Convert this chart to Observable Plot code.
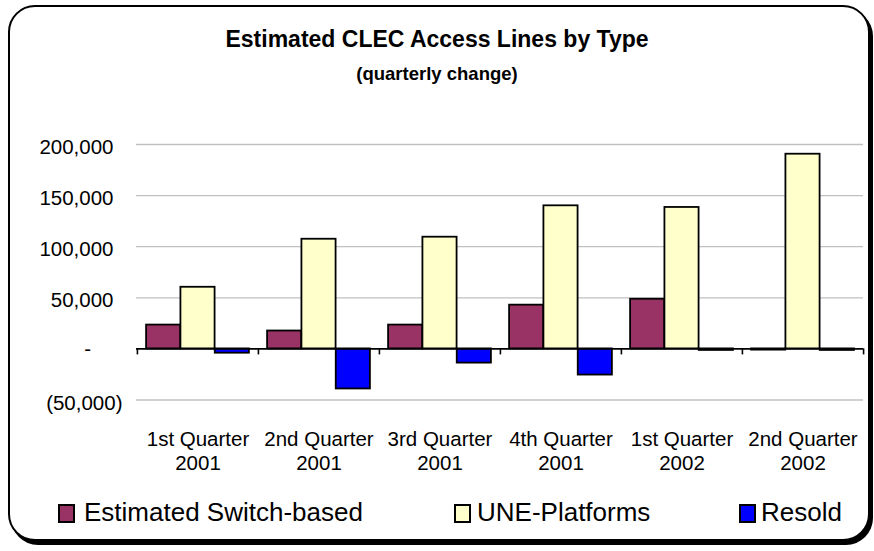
<!DOCTYPE html>
<html>
<head>
<meta charset="utf-8">
<script src="https://cdn.jsdelivr.net/npm/d3@7"></script>
<script src="https://cdn.jsdelivr.net/npm/@observablehq/plot@0.6"></script>
<style>
  html, body { margin: 0; padding: 0; background: #fff; }
  #wrap { position: relative; width: 874px; height: 551px; overflow: hidden;
          font-family: "Liberation Sans", Arial, sans-serif; color: #000; }
  #frame { position: absolute; left: 8px; top: 5px; width: 858px; height: 532px;
           border: 2px solid #000; border-radius: 27px; box-shadow: 3px 4px 0 #000; background: #fff; }
  .t { position: absolute; white-space: nowrap; }
  #title { left: 0; width: 874px; text-align: center; top: 27.5px; font-size: 23px; line-height: 23px; font-weight: bold; }
  #subtitle { left: 0; width: 874px; text-align: center; top: 64.5px; font-size: 18.5px; line-height: 18.5px; font-weight: bold; }
  #chart { position: absolute; left: 0; top: 0; }
  .key { position: absolute; top: 504px; width: 13px; height: 15px; border: 2px solid #000; }
  .ltxt { position: absolute; top: 499px; font-size: 26px; line-height: 26px; }
</style>
</head>
<body>
<div id="wrap">
  <div id="frame"></div>
  <div id="chart"></div>
  <div id="title" class="t"></div>
  <div id="subtitle" class="t"></div>
  <div id="legend"></div>
</div>
<script>
// ---- data ----
const titleText = "Estimated CLEC Access Lines by Type";
const subtitleText = "(quarterly change)";
const quarters = ["1st Quarter\n2001", "2nd Quarter\n2001", "3rd Quarter\n2001",
                  "4th Quarter\n2001", "1st Quarter\n2002", "2nd Quarter\n2002"];
const seriesNames = ["Estimated Switch-based", "UNE-Platforms", "Resold"];
const switchBased  = [23300, 17500, 23300, 42800, 48600, -1200];
const unePlatforms = [60300, 107300, 109300, 140000, 138400, 190500];
const resold       = [-4200, -39200, -13900, -25600, -1500, -1500];
const yTicks = [-50000, 0, 50000, 100000, 150000, 200000];
const seriesColors = ["#993366", "#FFFFCC", "#0000FF"];

// ---- layout ----
const W = 874, H = 551, mL = 136, mR = 11, mT = 144, mB = 151.5;
const step = (W - mL - mR) / quarters.length;
const barW = step / 3.53;
const pad = (step - 3 * barW) / 2;
const tickLenPx = 6;
const tickLen = tickLenPx * (yTicks[yTicks.length - 1] - yTicks[0]) / (H - mT - mB);

const values = [switchBased, unePlatforms, resold];
const rows = [];
quarters.forEach((q, qi) => values.forEach((arr, si) => rows.push({q, s: si, v: arr[qi]})));

const fmt = d3.format(",");
const axisFont = 20.5;

const barMarks = seriesNames.map((name, i) =>
  Plot.barY(rows.filter(r => r.s === i), {
    x: "q", y1: 0, y2: "v",
    fill: seriesColors[i], stroke: "#000", strokeWidth: 1.8,
    insetLeft: pad + i * barW, insetRight: step - pad - (i + 1) * barW
  })
);

const chart = Plot.plot({
  width: W, height: H,
  marginLeft: mL, marginRight: mR, marginTop: mT, marginBottom: mB,
  style: {background: "transparent", color: "#000", fontFamily: "'Liberation Sans', Arial, sans-serif", overflow: "visible"},
  x: {domain: quarters, padding: 0, label: null},
  y: {domain: [yTicks[0], yTicks[yTicks.length - 1]], label: null},
  marks: [
    Plot.ruleY(yTicks.filter(d => d !== 0), {stroke: "#c0c0c0", strokeWidth: 1.3}),
    ...barMarks,
    Plot.ruleY([0], {stroke: "#000", strokeWidth: 1.8}),
    Plot.ruleX(quarters, {x: d => d, y1: 0, y2: -tickLen, dx: -step / 2, stroke: "#000", strokeWidth: 1.6}),
    Plot.ruleX(quarters.slice(-1), {x: d => d, y1: 0, y2: -tickLen, dx: step / 2, stroke: "#000", strokeWidth: 1.6}),
    Plot.axisY(yTicks.filter(d => d > 0), {tickSize: 0, tickPadding: 23, fontSize: axisFont, dy: 2.5, tickFormat: fmt, fill: "#000"}),
    Plot.axisY(yTicks.filter(d => d === 0), {tickSize: 0, tickPadding: 45.5, fontSize: axisFont, dy: 1, tickFormat: () => "-", fill: "#000"}),
    Plot.axisY(yTicks.filter(d => d < 0), {tickSize: 0, tickPadding: 14, fontSize: axisFont, dy: 3, tickFormat: d => `(${fmt(-d)})`, fill: "#000"}),
    Plot.axisX({tickSize: 0, tickPadding: 28.5, fontSize: axisFont, lineHeight: 1.17, fill: "#000"})
  ]
});
document.getElementById("chart").appendChild(chart);

document.getElementById("title").textContent = titleText;
document.getElementById("subtitle").textContent = subtitleText;

// legend
const keyX = [58, 454, 739];
const txtX = [84, 477, 761];
const legend = document.getElementById("legend");
seriesNames.forEach((name, i) => {
  const k = document.createElement("div");
  k.className = "key";
  k.style.left = keyX[i] + "px";
  k.style.background = seriesColors[i];
  legend.appendChild(k);
  const t = document.createElement("div");
  t.className = "t ltxt";
  t.style.left = txtX[i] + "px";
  t.textContent = name;
  legend.appendChild(t);
});
</script>
</body>
</html>
